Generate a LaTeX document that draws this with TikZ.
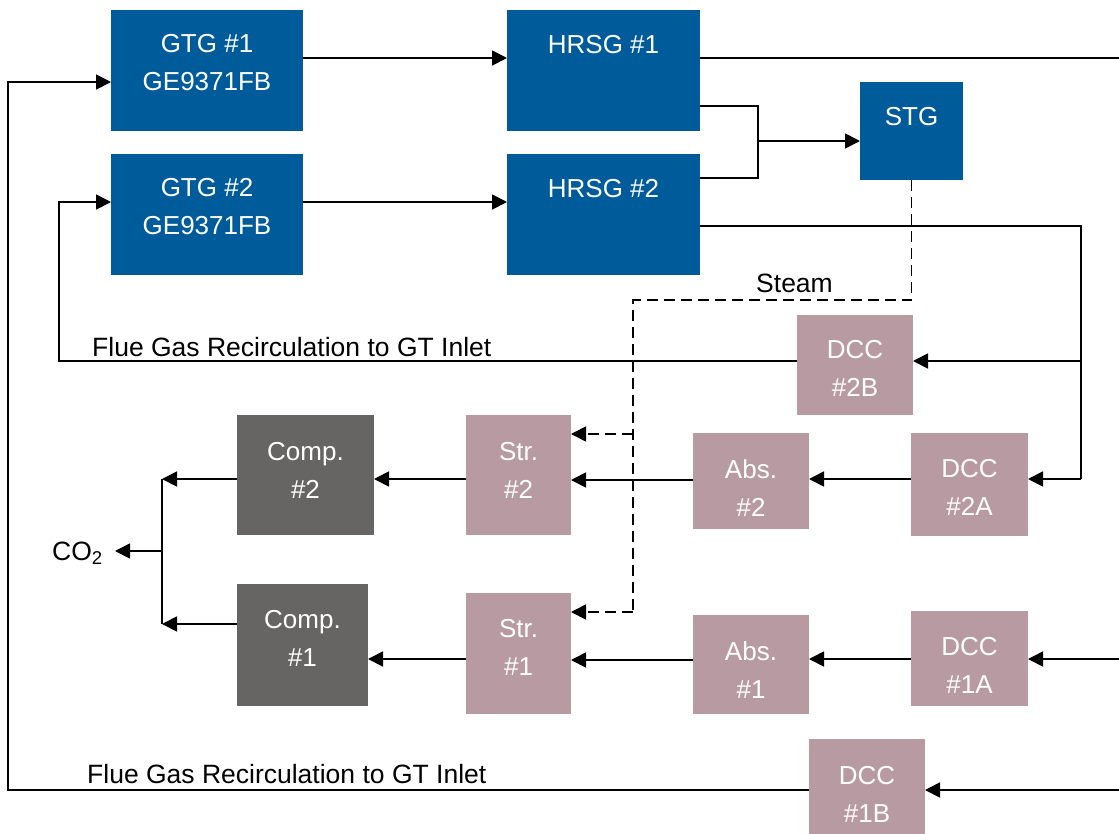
\documentclass[tikz,border=0pt]{standalone}
\usepackage{fontspec}
\setmainfont{Liberation Sans}
\usetikzlibrary{arrows.meta}
\definecolor{gtblue}{HTML}{005B9B}
\definecolor{ccpink}{HTML}{B89AA3}
\definecolor{compgray}{HTML}{666563}
\begin{document}
\begin{tikzpicture}[x=1pt,y=-1pt,
  blk/.style={inner sep=0pt, outer sep=0pt, draw=none},
  bluebox/.style={blk, fill=gtblue},
  pinkbox/.style={blk, fill=ccpink},
  graybox/.style={blk, fill=compgray},
  txt/.style={text=white, align=center, inner sep=0pt, font=\fontsize{26}{38}\selectfont},
  lbl/.style={text=black, inner sep=0pt, anchor=base west, font=\fontsize{26.5}{30}\selectfont},
  pipe/.style={line width=1.8pt},
  flow/.style={line width=1.8pt, -{Triangle[length=15pt,width=15pt]}},
  steam/.style={line width=1.8pt, dash pattern=on 11pt off 6pt},
  steamflow/.style={steam, -{Triangle[length=15pt,width=15pt]}}]
\useasboundingbox (0,0) rectangle (1119,833);
\clip (0,0) rectangle (1119,833);

% boxes
\node[bluebox, minimum width=192pt, minimum height=121pt] (gtg1) at (207,70.5) {};
\node[txt] (gtg1t) at ([yshift=7.5pt]gtg1.center) {GTG \#1\\GE9371FB};
\node[bluebox, minimum width=192pt, minimum height=121pt] (gtg2) at (207,214.5) {};
\node[txt] (gtg2t) at ([yshift=7.5pt]gtg2.center) {GTG \#2\\GE9371FB};
\node[bluebox, minimum width=193pt, minimum height=121pt] (hrsg1) at (603.5,70.5) {};
\node[txt, anchor=base] (hrsg1t) at (603.5,53) {HRSG \#1};
\node[bluebox, minimum width=193pt, minimum height=121pt] (hrsg2) at (603.5,214.5) {};
\node[txt, anchor=base] (hrsg2t) at (603.5,197) {HRSG \#2};
\node[bluebox, minimum width=103pt, minimum height=98pt] (stg) at (911.5,131) {};
\node[txt, anchor=base] (stgt) at (911.5,125) {STG};

\node[pinkbox, minimum width=116pt, minimum height=100pt] (dcc2b) at (855,365) {};
\node[txt] (dcc2bt) at ([yshift=-3pt]dcc2b.center) {DCC\\\#2B};
\node[pinkbox, minimum width=117pt, minimum height=103pt] (dcc2a) at (969.5,484.5) {};
\node[txt] (dcc2at) at ([yshift=-2.5pt]dcc2a.center) {DCC\\\#2A};
\node[pinkbox, minimum width=116pt, minimum height=96pt] (abs2) at (751,481) {};
\node[txt] (abs2t) at ([yshift=-7pt]abs2.center) {Abs.\\\#2};
\node[pinkbox, minimum width=105pt, minimum height=120pt] (str2) at (518.5,475) {};
\node[txt] (str2t) at ([yshift=5pt]str2.center) {Str.\\\#2};
\node[graybox, minimum width=137pt, minimum height=120pt] (comp2) at (305.5,475) {};
\node[txt] (comp2t) at ([yshift=5pt]comp2.center) {Comp.\\\#2};

\node[graybox, minimum width=131pt, minimum height=122pt] (comp1) at (302.5,645) {};
\node[txt] (comp1t) at ([yshift=7pt]comp1.center) {Comp.\\\#1};
\node[pinkbox, minimum width=105pt, minimum height=121pt] (str1) at (518.5,653.5) {};
\node[txt] (str1t) at ([yshift=6.5pt]str1.center) {Str.\\\#1};
\node[pinkbox, minimum width=116pt, minimum height=99pt] (abs1) at (751,664.5) {};
\node[txt] (abs1t) at ([yshift=-5.5pt]abs1.center) {Abs.\\\#1};
\node[pinkbox, minimum width=117pt, minimum height=95pt] (dcc1a) at (969.5,658.5) {};
\node[txt] (dcc1at) at ([yshift=-6.5pt]dcc1a.center) {DCC\\\#1A};
\node[pinkbox, minimum width=116pt, minimum height=110pt] (dcc1b) at (867,794) {};
\node[txt] (dcc1bt) at (dcc1b.center) {DCC\\\#1B};

% labels
\node[lbl] (steamlbl) at (756,292) {Steam};
\node[lbl] (fgr2) at (92,356) {Flue Gas Recirculation to GT Inlet};
\node[lbl] (fgr1) at (87,783) {Flue Gas Recirculation to GT Inlet};
\node[lbl] (co2) at (52,560) {CO\textsubscript{2}};

% helper coordinates
\coordinate (y58) at (0,58);
\coordinate (y202) at (0,202);
\coordinate (outA) at (1125,58);
\coordinate (jA) at (758,106);
\coordinate (jB) at (758,178);
\coordinate (jC) at (758,141);
\coordinate (rA) at (1081,226);
\coordinate (rB) at (1081,361);
\coordinate (rC) at (1081,479);
\coordinate (lA) at (59,361);
\coordinate (lB) at (59,202);
\coordinate (m2) at (0,480);
\coordinate (cA) at (162,479);
\coordinate (cB) at (162,624);
\coordinate (cM) at (162,551);
\coordinate (co2tip) at (115,551);
\coordinate (r1) at (1125,659);
\coordinate (m1) at (0,660);
\coordinate (b1) at (1125,790);
\coordinate (bL) at (8,790);
\coordinate (bT) at (8,82);
\coordinate (s1) at (912,300);
\coordinate (s2) at (633,300);
\coordinate (s3) at (633,612);
\coordinate (s4) at (633,434);

% power block
\draw[flow] (gtg1.east |- y58) -- (hrsg1.west |- y58);
\draw[flow] (gtg2.east |- y202) -- (hrsg2.west |- y202);
\draw[pipe] (hrsg1.east |- y58) -- (outA);
\draw[pipe] (hrsg1.east |- jA) -- (jA) -- (jB) -- (hrsg2.east |- jB);
\draw[flow] (jC) -- (stg.west |- jC);

% train 2
\draw[pipe] (hrsg2.east |- rA) -- (rA) -- (rC);
\draw[flow] (rC) -- (dcc2a.east |- rC);
\draw[flow] (rB) -- (dcc2b.east |- rB);
\draw[flow] (dcc2b.west |- lA) -- (lA) -- (lB) -- (gtg2.west |- lB);
\draw[flow] (dcc2a.west |- rC) -- (abs2.east |- rC);
\draw[flow] (abs2.west |- m2) -- (str2.east |- m2);
\draw[flow] (str2.west |- rC) -- (comp2.east |- rC);
\draw[flow] (comp2.west |- cA) -- (cA);

% CO2 header
\draw[pipe] (cA) -- (cB);
\draw[flow] (comp1.west |- cB) -- (cB);
\draw[flow] (cM) -- (co2tip);

% train 1
\draw[flow] (r1) -- (dcc1a.east |- r1);
\draw[flow] (dcc1a.west |- r1) -- (abs1.east |- r1);
\draw[flow] (abs1.west |- m1) -- (str1.east |- m1);
\draw[flow] (str1.west |- r1) -- (comp1.east |- r1);
\draw[flow] (b1) -- (dcc1b.east |- b1);
\draw[flow] (dcc1b.west |- b1) -- (bL) -- (bT) -- (gtg1.west |- bT);

% steam
\draw[steam] (stg.south) -- (stg.south |- s1) -- (s2) -- (s3);
\draw[steamflow] (s4) -- (str2.east |- s4);
\draw[steamflow] (s3) -- (str1.east |- s3);
\end{tikzpicture}
\end{document}
